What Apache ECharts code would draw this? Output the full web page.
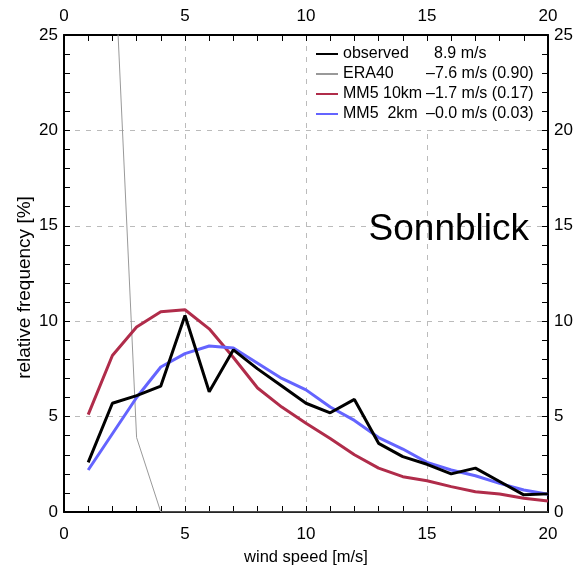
<!DOCTYPE html>
<html>
<head>
<meta charset="utf-8">
<script src="https://cdn.jsdelivr.net/npm/echarts@6/dist/echarts.min.js"></script>
<style>
  html, body { margin: 0; padding: 0; background: #fff; }
  #chart { width: 574px; height: 568px; }
</style>
</head>
<body>
<div id="chart"></div>
<script>
// wind speed bins [m/s]
const windSpeed = [1, 2, 3, 4, 5, 6, 7, 8, 9, 10, 11, 12, 13, 14, 15, 16, 17, 18, 19, 20];
// relative frequency [%]
const observed = [2.6, 5.7, 6.1, 6.6, 10.3, 6.3, 8.5, 7.5, 6.6, 5.7, 5.2, 5.9, 3.6, 2.9, 2.5, 2.0, 2.3, 1.6, 0.9, 0.95];
const era40 = [60, 31.5, 3.9, 0, 0, 0, 0, 0, 0, 0, 0, 0, 0, 0, 0, 0, 0, 0, 0, 0];
const mm5_10km = [5.1, 8.2, 9.7, 10.5, 10.6, 9.6, 8.1, 6.5, 5.5, 4.65, 3.85, 3.0, 2.3, 1.85, 1.64, 1.33, 1.06, 0.94, 0.72, 0.58];
const mm5_2km = [2.2, 4.1, 6.0, 7.6, 8.3, 8.7, 8.6, 7.8, 7.0, 6.4, 5.5, 4.8, 3.9, 3.3, 2.6, 2.2, 1.9, 1.5, 1.15, 0.93];

const seriesNames = ['observed', 'ERA40', 'MM5 10km', 'MM5  2km'];
const seriesStats = ['\u20028.9 m/s', '\u20137.6 m/s (0.90)', '\u20131.7 m/s (0.17)', '\u20130.0 m/s (0.03)'];
const stationName = 'Sonnblick';

const pairs = arr => windSpeed.map((x, i) => [x, arr[i]]);

const myChart = echarts.init(document.getElementById('chart'));
const font = 'Liberation Sans, Arial, sans-serif';

const axisCommon = {
    type: 'value',
    interval: 5,
    axisLine: { show: true, onZero: false, lineStyle: { color: '#000', width: 2 } },
    axisTick: { show: true, inside: true, length: 6, lineStyle: { color: '#000', width: 1 } },
    minorTick: { show: true, splitNumber: 5, length: 6, lineStyle: { color: '#000', width: 1 } },
    axisLabel: { color: '#000', fontSize: 17, fontFamily: font },
    splitLine: { show: false }
};
const gridLine = { show: true, lineStyle: { color: '#bbb', type: [5, 6], width: 1 } };

myChart.setOption({
    animation: false,
    backgroundColor: '#fff',
    grid: { left: 64, right: 26, top: 35, bottom: 56, outerBoundsMode: 'none', containLabel: false },
    title: {
        text: stationName,
        right: 40,
        top: 206,
        textStyle: { fontSize: 37, fontWeight: 'normal', color: '#000', fontFamily: font }
    },
    legend: {
        data: seriesNames,
        orient: 'vertical',
        left: 307,
        top: 41,
        padding: [5, 6, 6, 8],
        backgroundColor: '#fff',
        itemWidth: 22,
        itemHeight: 12,
        itemGap: 4,
        selectedMode: false,
        itemStyle: { color: 'transparent', borderWidth: 0 },
        formatter: name => {
            const i = seriesNames.indexOf(name);
            return '{n|' + name + '}{v|' + seriesStats[i] + '}';
        },
        textStyle: {
            fontSize: 16, fontFamily: font, color: '#000',
            rich: {
                n: { width: 83, fontSize: 16, fontFamily: font, color: '#000', lineHeight: 18 },
                v: { fontSize: 16, fontFamily: font, color: '#000', lineHeight: 18 }
            }
        }
    },
    xAxis: [
        Object.assign({}, axisCommon, {
            min: 0, max: 20, position: 'bottom',
            axisLabel: Object.assign({}, axisCommon.axisLabel, { margin: 14 }),
            name: 'wind speed [m/s]', nameLocation: 'middle', nameGap: 37,
            nameTextStyle: { fontSize: 16.5, fontFamily: font, color: '#000' },
            splitLine: gridLine
        }),
        Object.assign({}, axisCommon, {
            min: 0, max: 20, position: 'top',
            axisLabel: Object.assign({}, axisCommon.axisLabel, { margin: 10 })
        })
    ],
    yAxis: [
        Object.assign({}, axisCommon, {
            min: 0, max: 25, position: 'left',
            axisLabel: Object.assign({}, axisCommon.axisLabel, { margin: 6 }),
            name: 'relative frequency [%]', nameLocation: 'middle', nameGap: 30,
            nameMoveOverlap: false,
            nameTextStyle: { fontSize: 19, fontFamily: font, color: '#000', padding: [0, 28, 0, 0] },
            splitLine: gridLine
        }),
        Object.assign({}, axisCommon, {
            min: 0, max: 25, position: 'right',
            axisLabel: Object.assign({}, axisCommon.axisLabel, { margin: 6 })
        })
    ],
    series: [
        {
            name: 'ERA40', type: 'line', data: pairs(era40), symbol: 'none', clip: true,
            lineStyle: { color: '#999', width: 1 }, itemStyle: { color: '#999' }, z: 2
        },
        {
            name: 'MM5 10km', type: 'line', data: pairs(mm5_10km), symbol: 'none', clip: true,
            lineStyle: { color: '#b02c4a', width: 3 }, itemStyle: { color: '#b02c4a' }, z: 3
        },
        {
            name: 'MM5  2km', type: 'line', data: pairs(mm5_2km), symbol: 'none', clip: true,
            lineStyle: { color: '#6464ff', width: 3 }, itemStyle: { color: '#6464ff' }, z: 4
        },
        {
            name: 'observed', type: 'line', data: pairs(observed), symbol: 'none', clip: true,
            lineStyle: { color: '#000', width: 3 }, itemStyle: { color: '#000' }, z: 5
        }
    ]
});
</script>
</body>
</html>
